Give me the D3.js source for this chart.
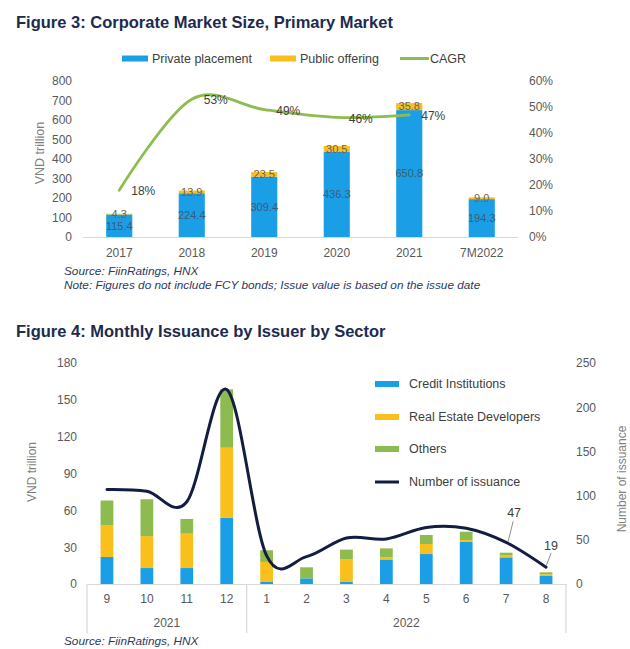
<!DOCTYPE html>
<html>
<head>
<meta charset="utf-8">
<script src="https://cdn.jsdelivr.net/npm/d3@7/dist/d3.min.js"></script>
<style>
  html, body { margin: 0; padding: 0; background: #fff; }
  svg { display: block; font-family: "Liberation Sans", Arial, sans-serif; }
</style>
</head>
<body>
<svg id="chart" width="630" height="649"></svg>
<script>
// ---------- Figure 3 data ----------
const years = ["2017", "2018", "2019", "2020", "2021", "7M2022"];
const privatePlacement = [115.4, 224.4, 309.4, 436.3, 650.8, 194.3];
const publicOffering = [4.3, 13.9, 23.5, 30.5, 35.8, 9.0];
const cagrYears = ["2017", "2018", "2019", "2020", "2021"];
const cagr = [0.18, 0.53, 0.49, 0.46, 0.47];
const leftTicks3 = [0, 100, 200, 300, 400, 500, 600, 700, 800];
const rightTicks3 = [0, 0.1, 0.2, 0.3, 0.4, 0.5, 0.6];

// ---------- Figure 4 data ----------
const months = ["9", "10", "11", "12", "1", "2", "3", "4", "5", "6", "7", "8"];
const monthYears = ["2021", "2021", "2021", "2021", "2022", "2022", "2022", "2022", "2022", "2022", "2022", "2022"];
const creditInst = [22, 13, 13, 54, 2, 4.6, 2, 20, 24.4, 34.2, 21.7, 6.5];
const realEstate = [26, 26, 28, 57, 16, 0, 18, 1.7, 8.2, 1.6, 1.9, 1.5];
const others = [20, 30, 12, 47.5, 9.5, 9, 8, 7.3, 7.3, 6.8, 1.9, 1.5];
const issuanceCount = [107, 105, 93, 220, 32, 31, 52, 51, 64, 63, 47, 19];
const leftTicks4 = [0, 30, 60, 90, 120, 150, 180];
const rightTicks4 = [0, 50, 100, 150, 200, 250];

const BLUE = "#1a9fe6", GOLD = "#f9bf1c", GREEN = "#8dbb4f", CAGR_GREEN = "#8cbd4e", NAVY = "#131d42";
const TITLE = "#1d2b4f", AXIS_TXT = "#595959", GRID = "#d9d9d9";

const svg = d3.select("#chart");
svg.append("rect").attr("width", 630).attr("height", 649).attr("fill", "#fff");

// ================= FIGURE 3 =================
svg.append("text").attr("x", 16).attr("y", 28)
  .attr("font-size", 16.5).attr("font-weight", "bold").attr("fill", TITLE)
  .text("Figure 3: Corporate Market Size, Primary Market");

// legend
const leg3 = [
  {label: "Private placement", color: BLUE, type: "bar", x: 122},
  {label: "Public offering", color: GOLD, type: "bar", x: 270},
  {label: "CAGR", color: CAGR_GREEN, type: "line", x: 400}
];
leg3.forEach(d => {
  if (d.type === "bar") {
    svg.append("rect").attr("x", d.x).attr("y", 55.5).attr("width", 26).attr("height", 6).attr("fill", d.color);
  } else {
    svg.append("line").attr("x1", d.x).attr("x2", d.x + 29).attr("y1", 58.5).attr("y2", 58.5)
      .attr("stroke", d.color).attr("stroke-width", 3);
  }
  svg.append("text").attr("x", d.x + 30).attr("y", 58.5).attr("dy", "0.35em")
    .attr("font-size", 12.5).attr("fill", "#404040").text(d.label);
});

const x3 = d3.scaleBand().domain(years).range([83, 518]).paddingInner(0.64).paddingOuter(0.32);
const y3 = d3.scaleLinear().domain([0, 800]).range([237, 81]);
const yR3 = d3.scaleLinear().domain([0, 0.6]).range([237, 81]);

// baseline
svg.append("line").attr("x1", 83).attr("x2", 518).attr("y1", 237.5).attr("y2", 237.5)
  .attr("stroke", GRID).attr("stroke-width", 1.2);

// axes
const ax3L = svg.append("g").attr("transform", "translate(76,0)")
  .call(d3.axisLeft(y3).tickValues(leftTicks3).tickSize(0).tickPadding(4));
const ax3R = svg.append("g").attr("transform", "translate(525,0)")
  .call(d3.axisRight(yR3).tickValues(rightTicks3).tickSize(0).tickPadding(4).tickFormat(d3.format(".0%")));
const ax3B = svg.append("g").attr("transform", "translate(0,237)")
  .call(d3.axisBottom(x3).tickSize(0).tickPadding(11));
[ax3L, ax3R, ax3B].forEach(g => {
  g.select(".domain").remove();
  g.selectAll("text").attr("font-size", 12).attr("fill", AXIS_TXT).attr("font-family", "Liberation Sans, Arial, sans-serif");
});

svg.append("text").attr("transform", "translate(40,153) rotate(-90)")
  .attr("text-anchor", "middle").attr("dy", "0.35em")
  .attr("font-size", 12.5).attr("fill", "#7f7f7f").text("VND trillion");

// bars
const g3 = svg.append("g");
years.forEach((yr, i) => {
  const p = privatePlacement[i], q = publicOffering[i];
  g3.append("rect").attr("x", x3(yr)).attr("width", x3.bandwidth())
    .attr("y", y3(p)).attr("height", y3(0) - y3(p)).attr("fill", BLUE);
  g3.append("rect").attr("x", x3(yr)).attr("width", x3.bandwidth())
    .attr("y", y3(p + q)).attr("height", y3(p) - y3(p + q)).attr("fill", GOLD);
  const cx = x3(yr) + x3.bandwidth() / 2;
  g3.append("text").attr("x", cx).attr("y", (y3(0) + y3(p)) / 2).attr("dy", "0.35em")
    .attr("text-anchor", "middle").attr("font-size", 11).attr("fill", "#3f5b78")
    .text(d3.format(".1f")(p));
  g3.append("text").attr("x", cx).attr("y", (y3(p) + y3(p + q)) / 2).attr("dy", "0.35em")
    .attr("text-anchor", "middle").attr("font-size", 11).attr("fill", "#6b6350")
    .text(d3.format(".1f")(q));
});

// CAGR line
const line3 = d3.line()
  .x((d, i) => x3(cagrYears[i]) + x3.bandwidth() / 2)
  .y(d => yR3(d))
  .curve(d3.curveCatmullRom.alpha(0));
svg.append("path").attr("d", line3(cagr)).attr("fill", "none")
  .attr("stroke", CAGR_GREEN).attr("stroke-width", 2.8).attr("stroke-linecap", "round");
cagr.forEach((v, i) => {
  svg.append("text").attr("x", x3(cagrYears[i]) + x3.bandwidth() / 2 + 12).attr("y", yR3(v) + 1)
    .attr("dy", "0.35em").attr("font-size", 12).attr("fill", "#404040")
    .text(d3.format(".0%")(v));
});

// source/notes
svg.append("text").attr("x", 64).attr("y", 275).attr("font-size", 11.8).attr("font-style", "italic")
  .attr("fill", "#2a3b5e").text("Source: FiinRatings, HNX");
svg.append("text").attr("x", 64).attr("y", 289).attr("font-size", 11.8).attr("font-style", "italic")
  .attr("fill", "#2a3b5e").text("Note: Figures do not include FCY bonds; Issue value is based on the issue date");

// ================= FIGURE 4 =================
svg.append("text").attr("x", 16).attr("y", 337)
  .attr("font-size", 16.5).attr("font-weight", "bold").attr("fill", TITLE)
  .text("Figure 4: Monthly Issuance by Issuer by Sector");

const keys4 = months.map((m, i) => i);
const x4 = d3.scaleBand().domain(keys4).range([87, 566]).paddingInner(0.68).paddingOuter(0.34);
const y4 = d3.scaleLinear().domain([0, 180]).range([584, 363]);
const yR4 = d3.scaleLinear().domain([0, 250]).range([584, 363]);

// axes
const ax4L = svg.append("g").attr("transform", "translate(80,0)")
  .call(d3.axisLeft(y4).tickValues(leftTicks4).tickSize(0).tickPadding(3));
const ax4R = svg.append("g").attr("transform", "translate(572,0)")
  .call(d3.axisRight(yR4).tickValues(rightTicks4).tickSize(0).tickPadding(4));
const ax4B = svg.append("g").attr("transform", "translate(0,584)")
  .call(d3.axisBottom(x4).tickSize(0).tickPadding(10.5).tickFormat(i => months[i]));
[ax4L, ax4R, ax4B].forEach(g => {
  g.select(".domain").remove();
  g.selectAll("text").attr("font-size", 12).attr("fill", AXIS_TXT).attr("font-family", "Liberation Sans, Arial, sans-serif");
});

// baseline and group separators
svg.append("line").attr("x1", 87).attr("x2", 566).attr("y1", 584.5).attr("y2", 584.5)
  .attr("stroke", GRID).attr("stroke-width", 1.2);
const groups = d3.groups(keys4, i => monthYears[i]);
const sepX = [87];
groups.forEach(([yr, idx]) => {
  const last = idx[idx.length - 1];
  sepX.push(last === keys4.length - 1 ? 566 : x4(last) + x4.bandwidth() + x4.step() * x4.paddingInner() / 2);
  const c0 = x4(idx[0]) + x4.bandwidth() / 2, c1 = x4(last) + x4.bandwidth() / 2;
  svg.append("text").attr("x", (c0 + c1) / 2).attr("y", 626.5).attr("text-anchor", "middle")
    .attr("font-size", 12).attr("fill", AXIS_TXT).text(yr);
});
sepX.forEach(x => {
  svg.append("line").attr("x1", x).attr("x2", x).attr("y1", 584).attr("y2", 633)
    .attr("stroke", GRID).attr("stroke-width", 1.2);
});

svg.append("text").attr("transform", "translate(32,472) rotate(-90)")
  .attr("text-anchor", "middle").attr("dy", "0.35em")
  .attr("font-size", 12).attr("fill", "#7f7f7f").text("VND trillion");
svg.append("text").attr("transform", "translate(622,479) rotate(-90)")
  .attr("text-anchor", "middle").attr("dy", "0.35em")
  .attr("font-size", 12).attr("fill", "#7f7f7f").text("Number of issuance");

// stacked bars
const rows4 = keys4.map(i => ({i, credit: creditInst[i], real: realEstate[i], other: others[i]}));
const stack4 = d3.stack().keys(["credit", "real", "other"])(rows4);
const col4 = {credit: BLUE, real: GOLD, other: GREEN};
stack4.forEach(layer => {
  svg.append("g").attr("fill", col4[layer.key]).selectAll("rect").data(layer).join("rect")
    .attr("x", d => x4(d.data.i)).attr("width", x4.bandwidth())
    .attr("y", d => y4(d[1])).attr("height", d => y4(d[0]) - y4(d[1]));
});

// line
const line4 = d3.line()
  .x((d, i) => x4(i) + x4.bandwidth() / 2)
  .y(d => yR4(d))
  .curve(d3.curveCatmullRom.alpha(0));
svg.append("path").attr("d", line4(issuanceCount)).attr("fill", "none")
  .attr("stroke", NAVY).attr("stroke-width", 3).attr("stroke-linecap", "round");

// data labels with leader lines (Jul, Aug)
const lab4 = [
  {i: 10, lx1: 2, ly1: -1, lx2: 7, ly2: -21, tx: 8, ty: -30},
  {i: 11, lx1: 0, ly1: -1, lx2: 5, ly2: -14, tx: 5, ty: -22}
];
lab4.forEach(d => {
  const px = x4(d.i) + x4.bandwidth() / 2, py = yR4(issuanceCount[d.i]);
  svg.append("line").attr("x1", px + d.lx1).attr("y1", py + d.ly1).attr("x2", px + d.lx2).attr("y2", py + d.ly2)
    .attr("stroke", "#8c8c8c").attr("stroke-width", 1);
  svg.append("text").attr("x", px + d.tx).attr("y", py + d.ty).attr("dy", "0.35em").attr("text-anchor", "middle")
    .attr("font-size", 12.5).attr("fill", "#404040").text(issuanceCount[d.i]);
});

// legend fig 4
const leg4 = [
  {label: "Credit Institutions", color: BLUE, type: "bar"},
  {label: "Real Estate Developers", color: GOLD, type: "bar"},
  {label: "Others", color: GREEN, type: "bar"},
  {label: "Number of issuance", color: NAVY, type: "line"}
];
const legY4 = [384, 417, 449, 482];
leg4.forEach((d, k) => {
  if (d.type === "bar") {
    svg.append("rect").attr("x", 375).attr("y", legY4[k] - 3).attr("width", 24).attr("height", 6).attr("fill", d.color);
  } else {
    svg.append("line").attr("x1", 375).attr("x2", 399).attr("y1", legY4[k]).attr("y2", legY4[k])
      .attr("stroke", d.color).attr("stroke-width", 3);
  }
  svg.append("text").attr("x", 409).attr("y", legY4[k]).attr("dy", "0.35em")
    .attr("font-size", 12.5).attr("fill", "#404040").text(d.label);
});

svg.append("text").attr("x", 64).attr("y", 645).attr("font-size", 11.8).attr("font-style", "italic")
  .attr("fill", "#2a3b5e").text("Source: FiinRatings, HNX");
</script>
</body>
</html>
